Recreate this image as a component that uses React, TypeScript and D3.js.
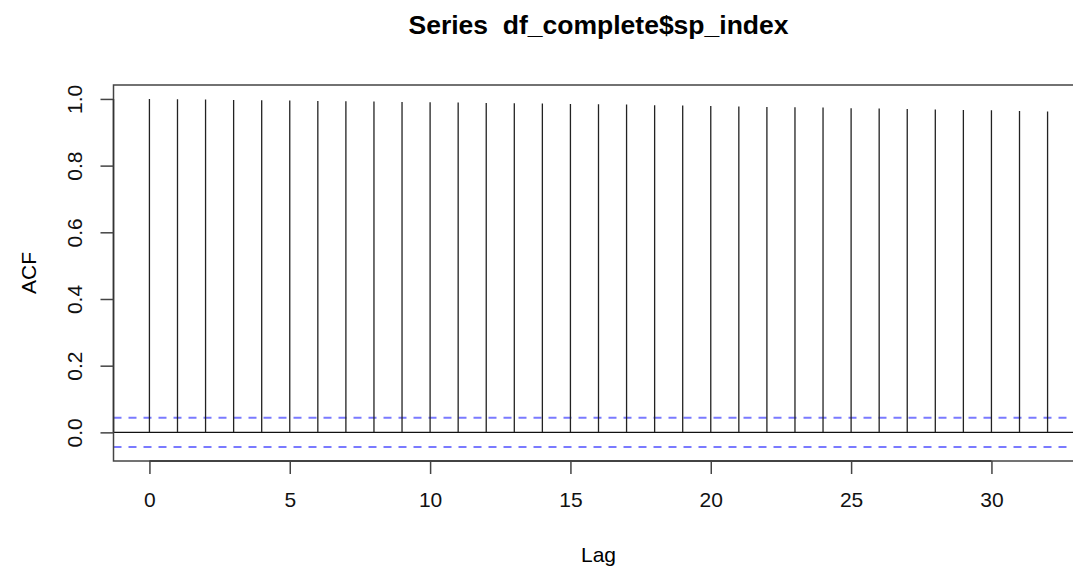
import React, { useRef, useEffect } from "react";
import * as d3 from "d3";

// lags and autocorrelation values
const lags = [
  0, 1, 2, 3, 4, 5, 6, 7, 8, 9, 10, 11, 12, 13, 14, 15, 16, 17, 18, 19, 20,
  21, 22, 23, 24, 25, 26, 27, 28, 29, 30, 31, 32,
];
const acfValues = [
  1.0, 0.999, 0.998, 0.997, 0.996, 0.995, 0.994, 0.993, 0.992, 0.991, 0.99,
  0.989, 0.988, 0.987, 0.986, 0.985, 0.984, 0.983, 0.981, 0.98, 0.979, 0.977,
  0.976, 0.975, 0.974, 0.972, 0.971, 0.97, 0.968, 0.967, 0.966, 0.964, 0.962,
];
const confLimit = 0.0441;
const xTicks = [0, 5, 10, 15, 20, 25, 30];
const yTicks = [0, 0.2, 0.4, 0.6, 0.8, 1.0];
const title = "Series  df_complete$sp_index";

const App = () => {
  const container = useRef<SVGSVGElement | null>(null);

  const width = 1073;
  const height = 570;
  const plot = { left: 113.5, right: 1083.5, top: 85, bottom: 461 };

  useEffect(() => {
    const svg = d3.select(container.current);
    svg.selectAll("*").remove();

    // R style axis ranges (4% extension)
    const xMin = d3.min(lags)!;
    const xMax = d3.max(lags)!;
    const xPad = (xMax - xMin) * 0.04;
    const yLo = Math.min(-confLimit, d3.min(acfValues)!);
    const yHi = Math.max(confLimit, d3.max(acfValues)!);
    const yPad = (yHi - yLo) * 0.04;

    const x = d3
      .scaleLinear()
      .domain([xMin - xPad, xMax + xPad])
      .range([plot.left, plot.right]);
    const y = d3
      .scaleLinear()
      .domain([yLo - yPad, yHi + yPad])
      .range([plot.bottom, plot.top]);

    const font = "'Liberation Sans', Arial, Helvetica, sans-serif";

    // title (keep the double space)
    svg
      .append("text")
      .attr("x", (plot.left + plot.right) / 2)
      .attr("y", 34)
      .attr("text-anchor", "middle")
      .attr("xml:space", "preserve")
      .style("white-space", "pre")
      .style("font-family", font)
      .style("font-weight", "bold")
      .style("font-size", "26.5px")
      .text(title);

    // zero line
    svg
      .append("line")
      .attr("x1", plot.left)
      .attr("x2", plot.right)
      .attr("y1", y(0))
      .attr("y2", y(0))
      .attr("stroke", "#111")
      .attr("stroke-width", 1.3);

    // confidence bands
    [confLimit, -confLimit].forEach((c) => {
      svg
        .append("line")
        .attr("x1", plot.left)
        .attr("x2", plot.right)
        .attr("y1", y(c))
        .attr("y2", y(c))
        .attr("stroke", "#7a7aff")
        .attr("stroke-width", 2)
        .attr("stroke-dasharray", "8,7");
    });

    // acf spikes
    svg
      .append("g")
      .selectAll("line")
      .data(lags)
      .enter()
      .append("line")
      .attr("x1", (d) => x(d))
      .attr("x2", (d) => x(d))
      .attr("y1", y(0))
      .attr("y2", (d, i) => y(acfValues[i]))
      .attr("stroke", "#222")
      .attr("stroke-width", 1.3);

    // box
    svg
      .append("rect")
      .attr("x", plot.left)
      .attr("y", plot.top)
      .attr("width", plot.right - plot.left)
      .attr("height", plot.bottom - plot.top)
      .attr("fill", "none")
      .attr("stroke", "#444")
      .attr("stroke-width", 1.5);

    // x axis
    const xAxis = d3
      .axisBottom(x)
      .tickValues(xTicks)
      .tickSize(13)
      .tickPadding(18)
      .tickFormat((d) => String(d));
    const gx = svg
      .append("g")
      .attr("transform", `translate(0, ${plot.bottom})`)
      .call(xAxis);
    gx.select(".domain")
      .attr("d", `M${x(xTicks[0])},0H${x(xTicks[xTicks.length - 1])}`)
      .attr("stroke", "#333")
      .attr("stroke-width", 1.5);
    gx.selectAll(".tick line").attr("stroke", "#444").attr("stroke-width", 1.5);
    gx.selectAll(".tick text")
      .style("font-family", font)
      .style("font-size", "21px")
      .attr("fill", "#111");

    // y axis
    const yAxis = d3
      .axisLeft(y)
      .tickValues(yTicks)
      .tickSize(13)
      .tickFormat(d3.format(".1f"));
    const gy = svg
      .append("g")
      .attr("transform", `translate(${plot.left}, 0)`)
      .call(yAxis);
    gy.select(".domain")
      .attr("d", `M0,${y(yTicks[0])}V${y(yTicks[yTicks.length - 1])}`)
      .attr("stroke", "#333")
      .attr("stroke-width", 1.5);
    gy.selectAll(".tick line").attr("stroke", "#444").attr("stroke-width", 1.5);
    gy.selectAll(".tick text")
      .attr("x", null)
      .attr("dy", null)
      .attr("transform", "translate(-32, 0) rotate(-90)")
      .attr("text-anchor", "middle")
      .attr("dominant-baseline", "auto")
      .style("font-family", font)
      .style("font-size", "21px")
      .attr("fill", "#111");

    // axis labels
    svg
      .append("text")
      .attr("x", (plot.left + plot.right) / 2)
      .attr("y", 562)
      .attr("text-anchor", "middle")
      .style("font-family", font)
      .style("font-size", "21px")
      .text("Lag");

    svg
      .append("text")
      .attr("transform", `translate(36, ${(plot.top + plot.bottom) / 2}) rotate(-90)`)
      .attr("text-anchor", "middle")
      .style("font-family", font)
      .style("font-size", "21px")
      .text("ACF");
  }, []);

  return (
    <div style={{ position: "absolute", left: 0, top: 0, width, height, background: "#fff" }}>
      <svg ref={container} width={width} height={height} style={{ display: "block" }} />
    </div>
  );
};

export default App;
